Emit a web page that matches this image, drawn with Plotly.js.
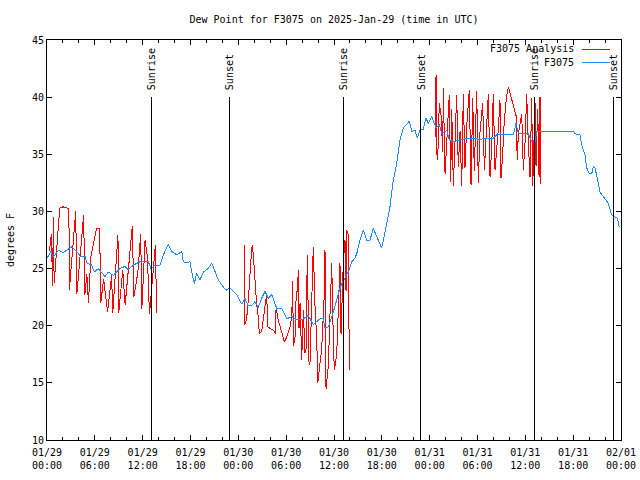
<!DOCTYPE html>
<html>
<head>
<meta charset="utf-8">
<script src="https://cdn.plot.ly/plotly-3.0.1.min.js"></script>
<style>html,body{margin:0;padding:0;background:#fff}#chart{width:640px;height:480px}
#chart .js-line{shape-rendering:crispEdges}
#chart .shapelayer path{shape-rendering:crispEdges}</style>
</head>
<body>
<div id="chart"></div>
<script>
// Hours since 2025-01-29 00:00 UTC
const obsHours = [0.00,0.16,0.50,0.79,1.42,2.04,2.47,3.10,3.73,4.14,4.77,4.98,5.61,5.93,6.43,6.86,7.28,7.69,8.32,8.74,9.16,9.78,10.20,10.83,11.67,12.71,13.05,13.55,14.17,14.59,15.22,15.64,16.27,16.90,17.10,17.52,17.94,18.15,18.48,18.78,19.19,19.61,20.23,20.66,21.07,21.49,21.91,22.45,22.95,23.37,23.80,24.42,24.84,25.18,25.68,26.09,26.50,26.93,27.35,27.76,28.19,28.82,29.45,30.07,30.70,31.11,31.52,32.15,32.78,33.40,34.24,34.66,34.87,35.29,35.71,36.13,36.54,36.97,37.38,37.79,38.22,38.63,38.85,39.26,39.68,40.10,40.52,40.93,41.36,41.77,41.98,42.19,42.61,43.02,43.44,43.87,44.28,44.69,45.12,45.45,45.75,46.16,46.45,46.79,47.20,47.54,47.83,48.26,48.80,49.21,49.51,50.14,50.46,50.96,51.80,52.65,53.47,54.31,55.15,55.98,56.41,57.86,58.49,58.83,59.12,60.37,60.80,61.21,61.43,66.02,66.24,66.86,67.07,67.49,67.70,68.03,68.33,68.53,68.74,69.15,69.37,69.78,70.41,70.83,71.25,71.54,71.79];
const obsValues = [25.9,26.1,26.5,26.0,26.6,26.4,26.6,26.9,26.5,26.1,26.1,25.5,25.3,24.7,25.0,24.6,24.3,24.7,24.4,24.7,25.0,25.2,24.9,25.3,25.6,25.6,25.0,25.3,25.3,26.2,27.1,26.5,26.2,26.5,25.6,25.5,25.6,24.7,23.7,24.6,24.0,24.7,25.0,25.5,24.7,24.0,23.6,23.1,23.3,23.0,22.7,21.9,22.4,21.8,21.8,22.1,21.6,22.4,23.0,22.4,22.7,21.5,21.5,20.6,20.8,20.6,20.5,20.6,20.9,20.1,20.6,20.6,19.8,19.9,20.8,21.7,22.8,23.7,24.2,24.7,25.6,25.9,26.3,27.5,28.4,27.5,27.5,28.5,27.8,27.2,26.8,27.5,29.0,30.4,32.75,34.2,36.25,37.3,37.6,37.9,37.0,37.1,36.4,37.1,37.2,38.15,37.7,38.3,37.3,37.6,36.8,37.1,36.25,36.1,36.25,36.4,36.4,36.3,36.4,36.4,36.7,36.7,36.7,37.7,36.8,36.8,36.1,36.1,37.0,37.0,36.8,36.7,35.8,34.9,33.8,33.3,33.3,33.9,33.8,32.5,31.7,31.3,30.7,29.7,29.5,29.4,28.6];

const anaHours = [0.30,0.55,0.70,0.80,0.90,1.00,1.30,1.60,2.00,2.50,2.75,2.80,3.00,3.40,3.60,3.75,4.20,4.60,4.75,5.00,5.20,5.50,6.20,6.60,6.75,7.10,7.60,7.90,8.10,8.25,8.90,9.00,9.50,9.80,10.10,10.70,10.90,11.40,11.75,11.90,12.30,12.60,12.85,13.20,13.60,13.75,
 19.00,
 24.75,24.81,25.03,25.28,25.65,25.75,25.90,26.09,26.28,26.51,26.63,26.93,27.35,27.56,27.68,28.39,28.69,28.73,29.01,29.44,29.77,30.07,30.48,30.70,30.82,30.90,31.11,31.23,31.45,31.52,31.61,31.74,31.95,32.15,32.36,32.49,32.65,32.87,32.99,33.40,33.62,33.83,33.96,34.46,34.75,34.87,35.00,35.29,35.71,35.91,36.04,36.34,36.54,36.75,36.88,37.04,37.17,37.38,37.51,37.59,37.80,37.92,
 43.00,
 48.73,48.80,48.88,49.01,49.21,49.42,49.64,49.71,49.93,50.18,50.46,50.64,50.77,50.97,51.18,51.39,51.59,51.81,52.02,52.22,52.43,52.65,52.97,53.19,53.40,53.60,53.90,54.10,54.32,54.65,54.86,55.07,55.36,55.57,55.78,55.98,56.20,56.61,56.82,56.95,57.16,57.36,57.64,57.87,58.08,58.49,58.83,58.99,59.12,59.55,59.75,59.96,60.17,60.37,60.59,60.80,60.93,61.22,61.34,61.55,61.72,61.84,61.91];
const anaValues = [26.5,28.0,23.5,29.5,23.7,24.5,27.5,30.3,30.4,30.3,30.2,23.1,25.0,29.0,30.0,22.8,26.5,29.7,22.7,24.5,22.0,26.0,28.5,28.5,22.0,24.1,21.2,23.0,24.4,21.1,27.9,21.1,24.9,21.8,24.0,28.7,22.5,24.7,28.0,21.5,27.5,26.0,21.0,24.0,27.1,21.1,
 null,
 27.1,20.1,20.5,22.5,26.5,27.1,26.0,23.5,22.0,20.7,19.3,19.5,22.0,22.8,19.9,19.6,19.3,21.55,20.5,19.5,18.6,19.0,19.9,20.8,23.9,18.2,19.0,22.1,23.6,24.9,19.8,22.0,17.0,21.4,17.6,18.0,26.2,16.6,16.8,26.9,21.7,19.0,15.0,18.0,22.25,26.6,14.5,16.5,25.45,19.0,16.1,17.5,22.3,25.45,19.3,22.3,25.6,27.5,23.0,28.4,27.9,16.1,
 null,
 36.5,41.9,35.1,34.5,39.5,38.5,35.2,40.8,33.3,36.5,40.2,32.6,39.0,32.2,37.0,40.2,33.9,37.0,32.2,40.3,33.8,37.5,40.6,32.3,39.9,33.5,40.5,32.5,37.0,39.5,33.6,36.0,40.3,33.0,35.5,40.3,33.6,37.2,39.75,32.9,35.0,38.0,40.0,40.9,40.3,39.2,38.4,34.5,36.8,38.5,33.6,36.0,40.3,36.0,33.0,39.9,32.2,39.5,34.0,39.0,33.0,40.0,32.4];

const eventHours = [13.05, 22.83, 37.13, 46.90, 61.09, 71.00];
const eventLabels = ["Sunrise","Sunset","Sunrise","Sunset","Sunrise","Sunset"];
const seriesNames = ["F3075 Analysis", "F3075"];
const seriesColors = ["#ff0000", "#1e8cff"];

const t0 = Date.UTC(2025, 0, 29);
function toDate(h) {
  const d = new Date(t0 + Math.round(h * 3600000));
  return d.toISOString().replace('T', ' ').slice(0, 19);
}

const FONT = "DejaVu Sans Mono, Liberation Mono, monospace";

const traces = [
  {x: anaHours.map(toDate), y: anaValues, type: 'scatter', mode: 'lines', name: seriesNames[0],
   line: {color: seriesColors[0], width: 1}, connectgaps: false, showlegend: false},
  {x: obsHours.map(toDate), y: obsValues, type: 'scatter', mode: 'lines', name: seriesNames[1],
   line: {color: seriesColors[1], width: 1, shape: 'linear'}, showlegend: false}
];

const shapes = eventHours.map(h => ({
  type: 'line', xref: 'x', yref: 'y', x0: toDate(h), x1: toDate(h), y0: 10, y1: 40,
  line: {color: '#000', width: 1}
}));
const annotations = eventHours.map((h, i) => ({
  x: toDate(h), y: 40, xref: 'x', yref: 'y', text: eventLabels[i], showarrow: false,
  textangle: -90, xanchor: 'center', yanchor: 'bottom', yshift: 5,
  font: {family: FONT, size: 10, color: '#000'}
}));

// gnuplot-style key: text on the left, line sample on the right
const keyRows = [0.9775, 0.945];
seriesNames.forEach((n, i) => {
  annotations.push({x: 0.921, y: keyRows[i], xref: 'paper', yref: 'paper', text: n, showarrow: false,
    xanchor: 'right', yanchor: 'middle', font: {family: FONT, size: 10, color: '#000'}});
  shapes.push({type: 'line', xref: 'paper', yref: 'paper', x0: 0.9315, x1: 0.9808, y0: keyRows[i], y1: keyRows[i],
    line: {color: seriesColors[i], width: 1}});
});

const layout = {
  width: 640, height: 480,
  margin: {l: 47, r: 19, t: 40, b: 40, pad: 0},
  paper_bgcolor: '#fff', plot_bgcolor: '#fff',
  font: {family: FONT, size: 10, color: '#000'},
  title: {text: 'Dew Point for F3075 on 2025-Jan-29 (time in UTC)', x: 0.5, xref: 'paper', xanchor: 'center',
          y: 1 - 19 / 480, yref: 'container', yanchor: 'middle', font: {family: FONT, size: 10, color: '#000'}},
  xaxis: {
    type: 'date', range: [toDate(0), toDate(72)], tick0: toDate(0), dtick: 6 * 3600000,
    tickformat: '%m/%d<br>%H:%M', ticks: 'inside', ticklen: 5, tickcolor: '#000', tickwidth: 1,
    minor: {dtick: 2 * 3600000, ticks: 'inside', ticklen: 3, tickcolor: '#000', showgrid: false},
    showline: true, linecolor: '#000', linewidth: 1, mirror: 'allticks', showgrid: false, zeroline: false,
    tickfont: {family: FONT, size: 10, color: '#000'}, ticklabelstandoff: 3
  },
  yaxis: {
    range: [10, 45], dtick: 5, tick0: 10, ticks: 'inside', ticklen: 5, tickcolor: '#000',
    showline: true, linecolor: '#000', linewidth: 1, mirror: 'allticks', showgrid: false, zeroline: false,
    tickfont: {family: FONT, size: 10, color: '#000'},
    title: {text: 'degrees F', font: {family: FONT, size: 10, color: '#000'}, standoff: 15}
  },
  shapes: shapes, annotations: annotations, showlegend: false
};

Plotly.newPlot('chart', traces, layout, {staticPlot: true, displayModeBar: false});
</script>
</body>
</html>
